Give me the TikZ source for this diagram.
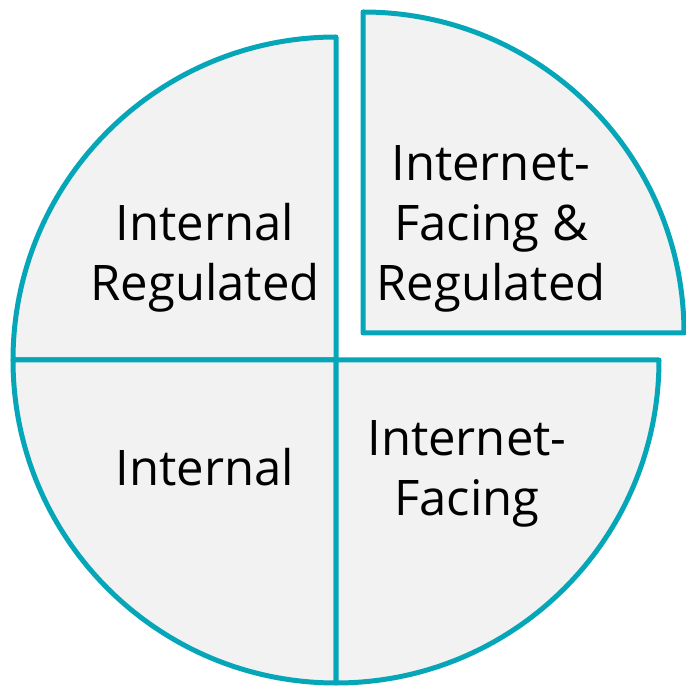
\documentclass[tikz,border=0pt]{standalone}
\usepackage{fontspec}
\setmainfont{Open Sans}
\usepackage{tikz}
\usetikzlibrary{calc}
\definecolor{pieteal}{HTML}{05A6B8}
\definecolor{piegray}{HTML}{F2F2F2}

\begin{document}
\begin{tikzpicture}[x=1pt, y=1pt, wedge/.style={draw=pieteal, fill=piegray, line width=5pt, line join=round}, every node/.style={font=\fontsize{49}{60}\selectfont, align=center, inner sep=0pt}]
  \useasboundingbox (0,0) rectangle (686,689);
  \coordinate (c) at (336,329);
  \coordinate (cx) at (363,356);
  % the three quarters that stay in place
  \draw[wedge] (c) -- ++(0,323) arc[start angle=90, end angle=180, radius=323] -- cycle;
  \draw[wedge] (c) -- ++(-323,0) arc[start angle=180, end angle=270, radius=323] -- cycle;
  \draw[wedge] (c) -- ++(0,-323) arc[start angle=270, end angle=360, radius=323] -- cycle;
  % the quarter pulled out
  \draw[wedge] (cx) -- ++(321,0) arc[start angle=0, end angle=90, radius=321] -- cycle;
  \node (intreg) at (205,431) {Internal\\Regulated};
  \node (netreg) at (491,460) {Internet-\\Facing \&\\Regulated};
  \node (int) at (205,222) {Internal};
  \node (net) at (467,215) {Internet-\\Facing};
\end{tikzpicture}
\end{document}
